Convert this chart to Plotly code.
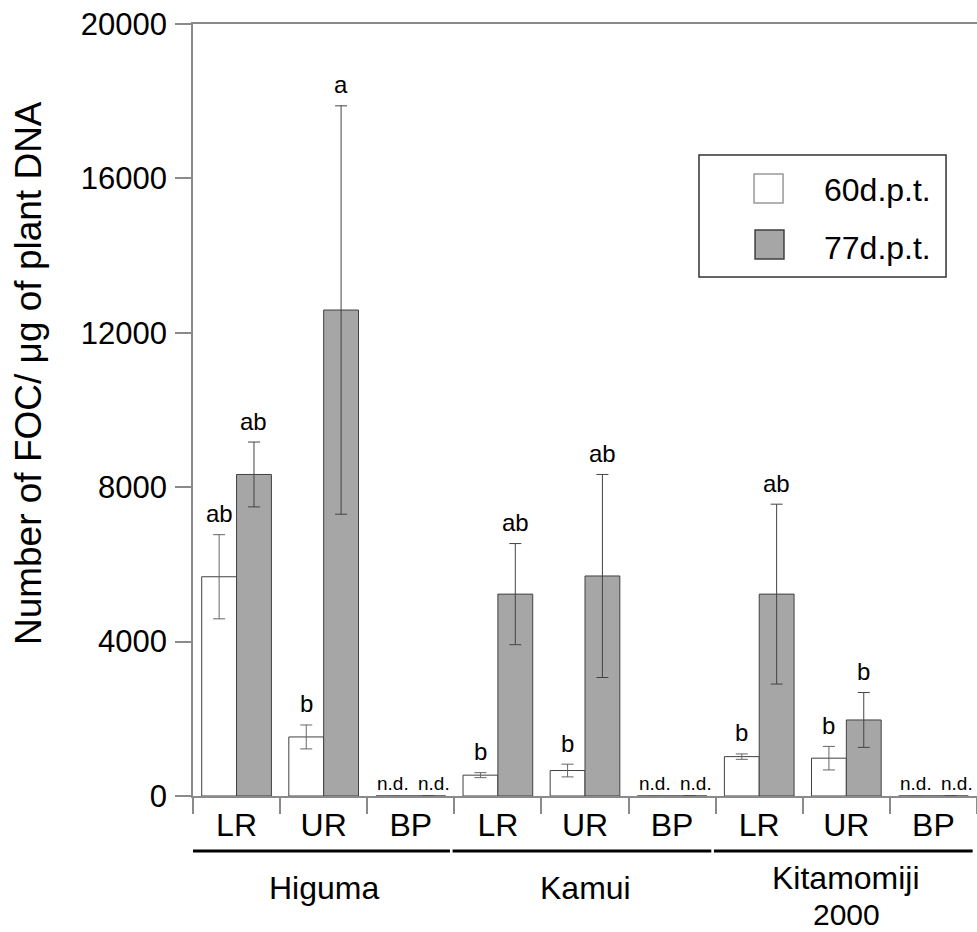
import plotly.graph_objects as go

# ---------------- data ----------------
groups = ["Higuma", "Kamui", "Kitamomiji<br>2000"]
tissues = ["LR", "UR", "BP"]
cat_labels = tissues * 3
series_names = ["60d.p.t.", "77d.p.t."]

# mean values (None = not detected)
val_60 = [5680, 1530, None, 540, 660, None, 1020, 980, None]
err_60 = [1090, 310, None, 65, 165, None, 70, 305, None]
val_77 = [8330, 12590, None, 5230, 5700, None, 5230, 1970, None]
err_77 = [840, 5290, None, 1310, 2630, None, 2330, 710, None]
sig_60 = ["ab", "b", None, "b", "b", None, "b", "b", None]
sig_77 = ["ab", "a", None, "ab", "ab", None, "ab", "b", None]
nd_label = "n.d."

y_ticks = [0, 4000, 8000, 12000, 16000, 20000]
y_ticktext = ["0", "4000", "8000", "12000", "16000", "20000"]
y_title = "Number of FOC/ μg of plant DNA"

# ---------------- styling ----------------
FONT = "Arial, 'Liberation Sans', sans-serif"
AXIS_COL = "#8a8a8a"
EDGE_COL = "#404040"
GRAY = "#a6a6a6"
BW = 0.4

x = list(range(len(cat_labels)))

def clean(v):
    return [0 if a is None else a for a in v]

fig = go.Figure()
fig.add_trace(go.Bar(
    x=x, y=clean(val_60), name=series_names[0], width=BW, offset=-BW,
    marker=dict(color="white", line=dict(color=EDGE_COL, width=1)),
    error_y=dict(type="data", array=clean(err_60), color="#666666", thickness=1, width=6),
    showlegend=False,
))
fig.add_trace(go.Bar(
    x=x, y=clean(val_77), name=series_names[1], width=BW, offset=0,
    marker=dict(color=GRAY, line=dict(color=EDGE_COL, width=1)),
    error_y=dict(type="data", array=clean(err_77), color="#444444", thickness=1, width=6),
    showlegend=False,
))

annotations = []
# significance letters / not-detected marks
for i in x:
    for vals, errs, sig, dx, nd_shift in ((val_60, err_60, sig_60, -BW / 2, 0),
                                          (val_77, err_77, sig_77, BW / 2, 6)):
        if vals[i] is not None and sig[i]:
            annotations.append(dict(x=i + dx, y=vals[i] + errs[i], xref="x", yref="y",
                                    text=sig[i], showarrow=False, yanchor="middle", yshift=21,
                                    font=dict(family=FONT, size=24, color="black")))
        elif vals[i] is None:
            annotations.append(dict(x=i + dx, y=0, xref="x", yref="y", text=nd_label,
                                    showarrow=False, yanchor="middle", yshift=13, xshift=nd_shift,
                                    font=dict(family=FONT, size=19, color="black")))

# group labels and underlines
shapes = []
for g, name in enumerate(groups):
    c = g * 3 + 1
    lines = name.split("<br>")
    if len(lines) == 1:
        specs = [(-92, 32)]
    else:
        specs = [(-82, 32), (-118, 30)]
    for line, (ys, fs) in zip(lines, specs):
        annotations.append(dict(x=c, y=0, xref="x", yref="paper", text=line, showarrow=False,
                                yanchor="middle", yshift=ys,
                                font=dict(family=FONT, size=fs, color="black")))
    shapes.append(dict(type="line", xref="x", yref="paper", x0=g * 3 - 0.52, x1=g * 3 + 2.45,
                       y0=-0.0712, y1=-0.0712, line=dict(color="black", width=3)))

# y-axis title
annotations.append(dict(x=-0.209, y=0.548, xref="paper", yref="paper", text=y_title,
                        textangle=-90, showarrow=False, xanchor="center", yanchor="middle",
                        font=dict(family=FONT, size=37, color="black")))

# manual legend
shapes.append(dict(type="rect", xref="paper", yref="paper", x0=0.6454, x1=0.9605, y0=0.6723, y1=0.8303,
                   line=dict(color="#333333", width=1.5), fillcolor="white", layer="above"))
shapes.append(dict(type="rect", xref="paper", yref="paper", x0=0.7156, x1=0.7526, y0=0.7681, y1=0.8057,
                   line=dict(color="#999999", width=1.5), fillcolor="white", layer="above"))
shapes.append(dict(type="rect", xref="paper", yref="paper", x0=0.7169, x1=0.7538, y0=0.6956, y1=0.7332,
                   line=dict(color=EDGE_COL, width=1.5), fillcolor=GRAY, layer="above"))
for name, yy in zip(series_names, (0.785, 0.7098)):
    annotations.append(dict(x=0.8023, y=yy, xref="paper", yref="paper", text=name, showarrow=False,
                            xanchor="left", yanchor="middle",
                            font=dict(family=FONT, size=32, color="black")))

fig.update_layout(
    width=977, height=932,
    margin=dict(l=193, r=0, t=24, b=136),
    plot_bgcolor="white", paper_bgcolor="white",
    barmode="overlay",
    font=dict(family=FONT, size=30, color="black"),
    annotations=annotations, shapes=shapes,
    xaxis=dict(
        range=[-0.5, 8.5], tickmode="array", tickvals=x, ticktext=cat_labels,
        ticks="", showgrid=False, zeroline=False,
        showline=True, linecolor=AXIS_COL, linewidth=1.5, mirror=True,
        ticklabelstandoff=0,
        tickfont=dict(family=FONT, size=32, color="black"),
        minor=dict(tickmode="array", tickvals=[i - 0.5 for i in range(len(x) + 1)],
                   ticks="outside", ticklen=16, tickcolor=AXIS_COL, tickwidth=1.5, showgrid=False),
    ),
    yaxis=dict(
        range=[0, 20000], tickmode="array", tickvals=y_ticks, ticktext=y_ticktext,
        ticks="outside", ticklen=16, tickcolor=AXIS_COL, tickwidth=1.5,
        showgrid=False, zeroline=False, showline=True, linecolor=AXIS_COL, linewidth=1.5,
        ticklabelstandoff=2,
        tickfont=dict(family=FONT, size=31, color="black"),
    ),
)

fig.write_html("out.html")
